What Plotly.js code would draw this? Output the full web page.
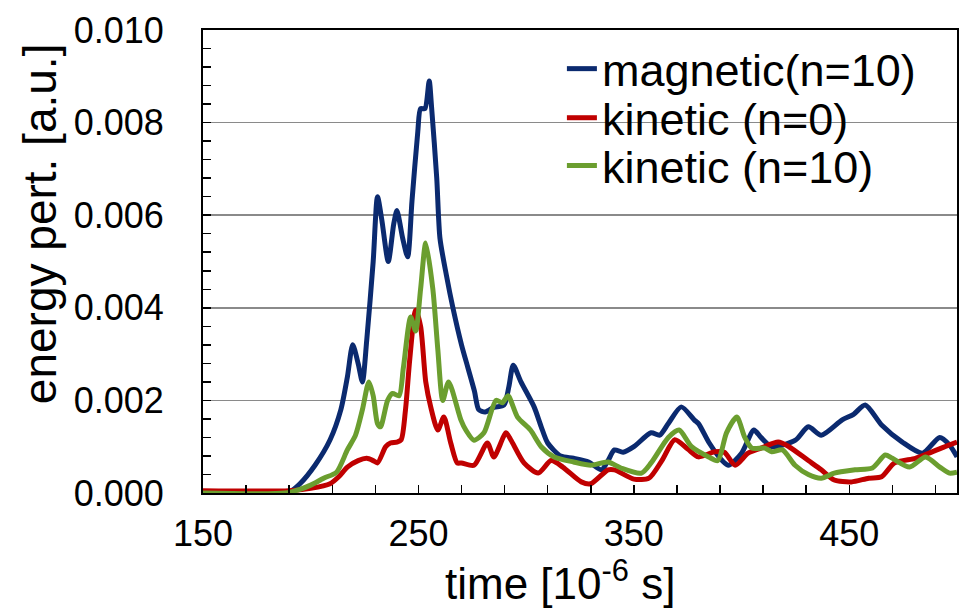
<!DOCTYPE html>
<html>
<head>
<meta charset="utf-8">
<script src="https://cdn.plot.ly/plotly-3.0.1.min.js"></script>
<style>html,body{margin:0;padding:0;background:#fff;}#chart{width:959px;height:611px;}</style>
</head>
<body>
<div id="chart"></div>
<script>
// time [1e-6 s] and energy values for each series
const timeMag = [150,170,185,190,195,202,209,214,217,219.5,222,224,226,229,231,233,236,238.5,240,242.7,245,247,249.7,251,253,255,256,258.5,260,263,266,270,273,276,278,281,285,289.7,292,294,297.6,303.7,307,310,316,322,329,335,338,341,345,350,358,362,366,372,378,380,385,391,394,400,405.7,409,414,425,431,437,446.7,452,457.4,465,474.6,484,492,496.5,500];
const magnetic = [0,0,0,0.00002,0.0002,0.0006,0.00115,0.0018,0.0025,0.0032,0.0028,0.0024,0.0033,0.005,0.0064,0.0059,0.005,0.0058,0.0061,0.0055,0.0051,0.0063,0.0078,0.0083,0.0083,0.0089,0.0084,0.0068,0.0055,0.0047,0.004,0.0032,0.0027,0.0022,0.0018,0.00175,0.00185,0.0019,0.0023,0.00276,0.0024,0.00186,0.00143,0.00108,0.0008,0.00075,0.00067,0.0005,0.0007,0.00093,0.00088,0.001,0.0013,0.00125,0.0015,0.00186,0.00158,0.0015,0.00108,0.0007,0.0006,0.00086,0.00136,0.0012,0.001,0.00114,0.00143,0.00125,0.00158,0.0017,0.0019,0.00147,0.0011,0.00086,0.0012,0.00104,0.00078];

const timeKin0 = [150,190,200,209,213,217,222,226,229,231,234.8,237,240,242,244,246,248.7,251,253.4,255.7,259,261.8,265,268,270,275.8,282,285,290.7,293,299,305.6,311.6,317,325.6,330,338,341,350,357,363,369,375,380,387.5,392,397,403,409,417,422,431,437,443,451,459,465,471,480.7,487,496.5,500];
const kinetic0 = [0.00005,0.00005,0.0001,0.0002,0.00035,0.00056,0.0007,0.00075,0.0007,0.00065,0.001,0.00108,0.0011,0.00115,0.0018,0.0029,0.00395,0.0036,0.0024,0.00186,0.00136,0.00164,0.00108,0.00065,0.00065,0.0006,0.00108,0.00078,0.0013,0.00114,0.00065,0.00043,0.0007,0.00056,0.00024,0.0002,0.0005,0.0005,0.0003,0.00032,0.0007,0.00115,0.00095,0.00078,0.00089,0.00088,0.0006,0.00086,0.00097,0.0011,0.001,0.0007,0.0005,0.00028,0.00024,0.00032,0.00035,0.00065,0.00075,0.00086,0.00104,0.0011];

const timeKin10 = [150,188,195,200,206,212,217,220.8,224,227,229,231,232.4,235.7,238,241,243,246.4,248.7,251,253.4,256.7,259,261.3,264,269.7,272,275.8,280.4,286,289,291.6,296,302,307,313,322,330,338,344,353.5,358,366,371,376.8,384.7,389,393,397.8,401.5,404.8,410.8,414,419,424.8,431,437,443,452.7,460.7,466.7,470,478,485.4,492,496.5,500];
const kinetic10 = [0,0,0.00008,0.00017,0.00032,0.00045,0.00093,0.00125,0.0018,0.0024,0.0021,0.0015,0.00143,0.002,0.00215,0.0021,0.0027,0.0038,0.0035,0.0044,0.0054,0.0044,0.0031,0.002,0.0024,0.00158,0.00136,0.00114,0.0013,0.002,0.00195,0.0021,0.00164,0.00136,0.001,0.00078,0.00067,0.0006,0.00067,0.00054,0.00043,0.00065,0.0012,0.00136,0.001,0.00078,0.0007,0.0013,0.00164,0.0012,0.00097,0.00097,0.00089,0.00093,0.0006,0.0004,0.00032,0.00043,0.0005,0.00054,0.00082,0.00075,0.00056,0.00078,0.00056,0.00043,0.00045];

const seriesNames = ['magnetic(n=10)', 'kinetic (n=0)', 'kinetic (n=10)'];
const xTickVals = [150, 250, 350, 450];
const yTickVals = [0, 0.002, 0.004, 0.006, 0.008, 0.010];
const xTitle = 'time [10<sup>-6</sup> s]';
const yTitle = 'energy pert. [a.u.]';

const FONT = 'Liberation Sans, Arial, sans-serif';
const colors = ['#0b2a6f', '#c00000', '#6b9e2f'];

function mk(x, y, i, leg) {
  return {
    x: x, y: y, name: seriesNames[i], type: 'scatter', mode: 'lines',
    line: {color: colors[i], width: 5, shape: 'spline', smoothing: 0.7},
    legend: leg
  };
}
const data = [
  mk(timeMag, magnetic, 0, 'legend'),
  mk(timeKin0, kinetic0, 1, 'legend2'),
  mk(timeKin10, kinetic10, 2, 'legend3')
];

function legendAt(y) {
  return {x: 0.476, y: y, xanchor: 'left', yanchor: 'middle', bgcolor: 'rgba(0,0,0,0)',
          borderwidth: 0, font: {family: FONT, size: 45, color: '#000'}, itemwidth: 30};
}

const layout = {
  width: 959, height: 611,
  margin: {l: 203, r: 2, t: 30, b: 118},
  paper_bgcolor: '#fff', plot_bgcolor: '#fff',
  showlegend: true,
  font: {family: FONT, color: '#000'},
  xaxis: {
    range: [150, 500], tickvals: xTickVals, ticktext: xTickVals.map(String),
    ticks: 'inside', ticklen: 8, tickwidth: 1.5, tickcolor: '#000',
    minor: {tick0: 150, dtick: 20, ticks: 'inside', ticklen: 8, tickwidth: 1.5, tickcolor: '#000', showgrid: false},
    showgrid: false, zeroline: false,
    showline: true, linecolor: '#000', linewidth: 2, mirror: true,
    tickfont: {family: FONT, size: 36, color: '#000'},
    ticklabelstandoff: 8
  },
  yaxis: {
    range: [0, 0.010], tickvals: yTickVals, tickformat: '.3f',
    ticks: 'inside', ticklen: 8, tickwidth: 1.5, tickcolor: '#000',
    minor: {dtick: 0.0004, tick0: 0, ticks: 'inside', ticklen: 8, tickwidth: 1.5, tickcolor: '#000', showgrid: false},
    showgrid: true, gridcolor: '#8a8a8a', gridwidth: 1.5, zeroline: false,
    showline: true, linecolor: '#000', linewidth: 2, mirror: true,
    tickfont: {family: FONT, size: 36, color: '#000'},
    ticklabelstandoff: 30
  },
  annotations: [
    {text: xTitle, xref: 'paper', yref: 'paper', x: 0.4735, y: -0.19, xanchor: 'center', yanchor: 'middle',
     showarrow: false, font: {family: FONT, size: 44, color: '#000'}},
    {text: yTitle, xref: 'paper', yref: 'paper', x: -0.216, y: 0.581, xanchor: 'center', yanchor: 'middle',
     textangle: -90, showarrow: false, font: {family: FONT, size: 46, color: '#000'}}
  ],
  legend: legendAt(0.916),
  legend2: legendAt(0.810),
  legend3: legendAt(0.707)
};

Plotly.newPlot('chart', data, layout, {displayModeBar: false, staticPlot: true});
</script>
</body>
</html>
